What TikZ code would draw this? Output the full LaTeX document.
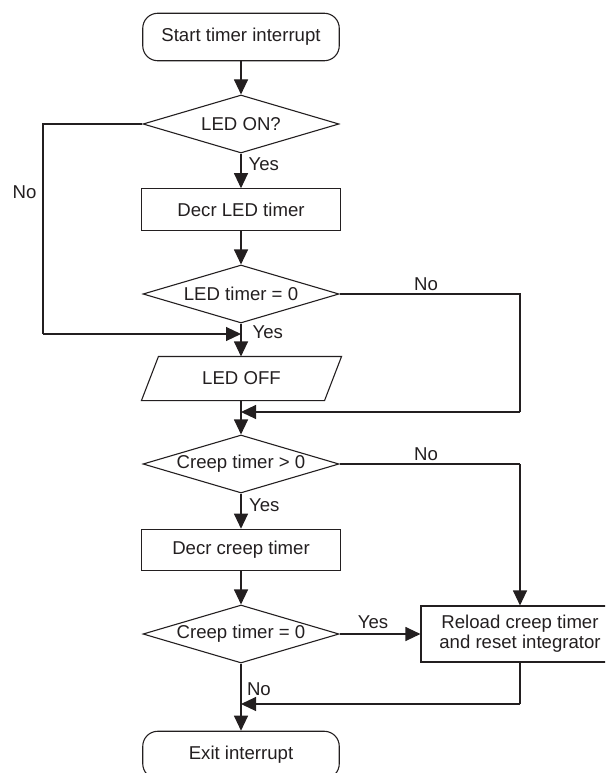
\documentclass[tikz,border=0pt]{standalone}
\usepackage{fontspec}
\setmainfont{Liberation Sans}
\usetikzlibrary{shapes.geometric,arrows.meta,calc}
\definecolor{ink}{HTML}{231F20}
\begin{document}
\begin{tikzpicture}[x=1pt,y=-1pt, line width=1.1pt,
  font=\fontsize{18.6}{20}\selectfont,
  base/.style={draw=ink, text=ink, inner sep=0pt, align=center},
  proc/.style={base, rectangle, minimum width=199pt, minimum height=41.5pt},
  term/.style={base, rectangle, rounded corners=15pt, minimum width=196.5pt, minimum height=47.5pt},
  dec/.style={base, diamond, aspect=3.4, minimum width=196pt, minimum height=58pt},
  io/.style={text=ink, inner sep=0pt, minimum width=182pt, minimum height=43pt},
  flow/.style={draw=ink, -{Triangle[length=15pt,width=14pt]}},
  link/.style={draw=ink},
  lbl/.style={inner sep=0pt, text=ink}]
\useasboundingbox (0,0) rectangle (605,773);
\clip (0,0) rectangle (605,773);

% nodes
\node[term] (start) at (241,37) {Start timer interrupt};
\node[dec]  (d1) at (241,124) {LED ON?};
\node[proc] (b1) at (241,209.5) {Decr LED timer};
\node[dec]  (d2) at (241,294) {LED timer = 0};
\node[io]   (off) at (241.5,378.5) {LED OFF};
\draw[ink] ([xshift=8.5pt]off.north west) -- ([xshift=8.5pt]off.north east)
  -- ([xshift=-8.5pt]off.south east) -- ([xshift=-8.5pt]off.south west) -- cycle;
\node[dec]  (d3) at (241,464) {Creep timer > 0};
\node[proc] (b2) at (241,550) {Decr creep timer};
\node[dec]  (d4) at (241,634) {Creep timer = 0};
\node[base, rectangle, minimum width=198pt, minimum height=56pt] (rl) at (520,634)
  {Reload creep timer\\and reset integrator};
\node[term] (exit) at (241,755) {Exit interrupt};

% helper coordinates
\coordinate (l1a) at (43,124);
\coordinate (l1b) at (43,334);
\coordinate (j1) at (241,334);
\coordinate (r1a) at (520,294);
\coordinate (r1b) at (520,412);
\coordinate (j2) at (241,412);
\coordinate (r2) at (520,464);
\coordinate (r3) at (520,704);
\coordinate (j3) at (241,704);

% connectors
\draw[flow] (start) -- (d1.north);
\draw[link] (d1.west) -- (l1a) -- (l1b);
\draw[flow] (l1b) -- (j1);
\draw[flow] (d1.south) -- (b1.north);
\draw[flow] (b1) -- (d2.north);
\draw[flow] (d2.south) -- (d2.south |- off.north);
\draw[link] (d2.east) -- (r1a) -- (r1b);
\draw[flow] (r1b) -- (j2);
\draw[flow] (d2.south |- off.south) -- (d3.north);
\draw[link] (d3.east) -- (r2);
\draw[flow] (r2) -- (rl.north);
\draw[flow] (d3.south) -- (b2.north);
\draw[flow] (b2) -- (d4.north);
\draw[flow] (d4.east) -- (rl.west);
\draw[flow] (d4.south) -- (exit.north);
\draw[link] (rl.south) -- (r3);
\draw[flow] (r3) -- (j3);

% labels
\node[lbl] (n1) at (24.5,192) {No};
\node[lbl, anchor=west] (y1) at (248,164.5) {Yes};
\node[lbl] (n2) at (426,284.5) {No};
\node[lbl, anchor=west] (y2) at (252,332.5) {Yes};
\node[lbl] (n3) at (426,454.5) {No};
\node[lbl, anchor=west] (y3) at (248.5,505) {Yes};
\node[lbl] (y4) at (373,622) {Yes};
\node[lbl, anchor=west] (n4) at (246.5,689) {No};
\end{tikzpicture}
\end{document}
